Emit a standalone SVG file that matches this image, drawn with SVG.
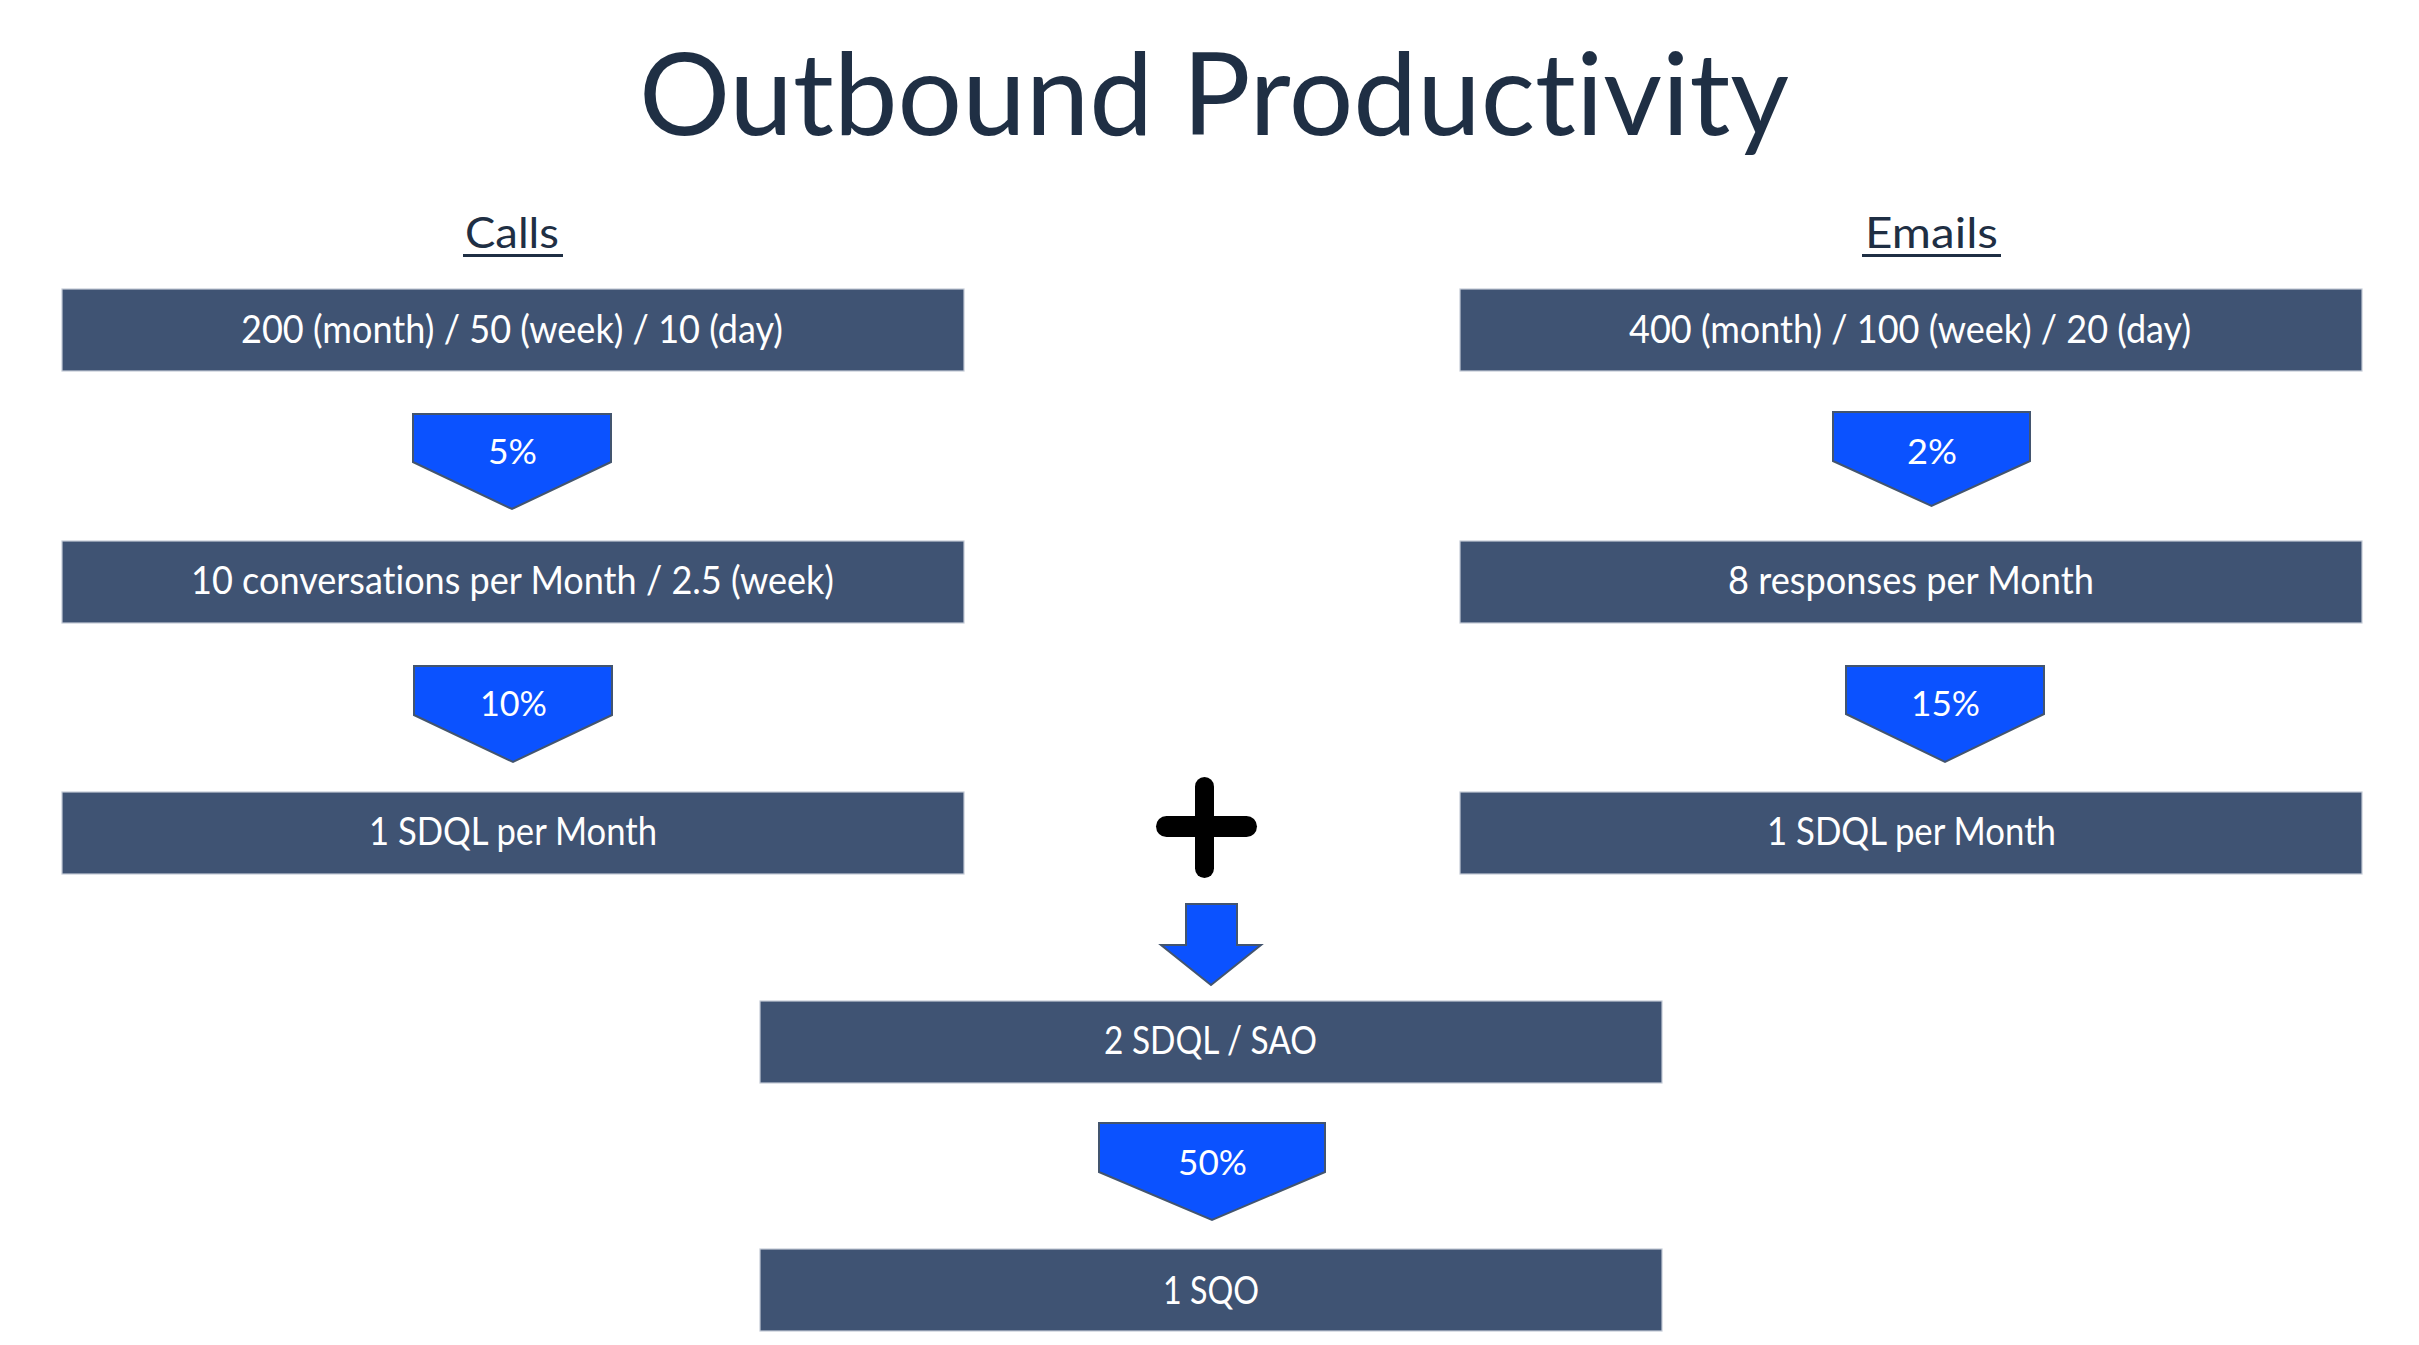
<svg xmlns="http://www.w3.org/2000/svg" width="2419" height="1345" viewBox="0 0 2419 1345">
  <style>
    text { font-variant-ligatures: none; font-feature-settings: "liga" 0, "clig" 0; }
    .box { fill: #3F5373; stroke: #C3CAD6; stroke-width: 1.2; }
    .bt { fill: #FFFFFF; font-family: Lato, "Noto Sans", sans-serif; font-size: 38px; }
    .chev { fill: #0B52FF; stroke: #43556F; stroke-width: 2; stroke-linejoin: miter; }
    .pt { fill: #FFFFFF; font-family: Lato, "Noto Sans", sans-serif; font-size: 34px; }
    .hd { fill: #1F2F44; font-family: Lato, "Noto Sans", sans-serif; }
  </style>
  <rect x="0" y="0" width="2419" height="1345" fill="#FFFFFF"/>

  <g id="title">
    <text class="hd" x="639" y="135" font-size="115" textLength="1150" lengthAdjust="spacingAndGlyphs">Outbound Productivity</text>
  </g>
  <g id="calls-heading">
    <text class="hd" x="465" y="248" font-size="43" textLength="94" lengthAdjust="spacingAndGlyphs">Calls</text>
    <rect x="463" y="254" width="100" height="3" fill="#1F2F44"/>
  </g>
  <g id="emails-heading">
    <text class="hd" x="1865" y="248" font-size="43" textLength="133" lengthAdjust="spacingAndGlyphs">Emails</text>
    <rect x="1862" y="254" width="139" height="3" fill="#1F2F44"/>
  </g>

  <g id="calls-volume">
    <rect class="box" x="62" y="289" width="902" height="82"/>
    <text class="bt" x="241" y="343" textLength="542" lengthAdjust="spacingAndGlyphs">200 (month) / 50 (week) / 10 (day)</text>
  </g>
  <g id="calls-conversations">
    <rect class="box" x="62" y="541" width="902" height="82"/>
    <text class="bt" x="191" y="594" textLength="643" lengthAdjust="spacingAndGlyphs">10 conversations per Month / 2.5 (week)</text>
  </g>
  <g id="calls-sdql">
    <rect class="box" x="62" y="792" width="902" height="82"/>
    <text class="bt" x="369" y="845" textLength="288" lengthAdjust="spacingAndGlyphs">1 SDQL per Month</text>
  </g>

  <g id="emails-volume">
    <rect class="box" x="1460" y="289" width="902" height="82"/>
    <text class="bt" x="1629" y="343" textLength="562" lengthAdjust="spacingAndGlyphs">400 (month) / 100 (week) / 20 (day)</text>
  </g>
  <g id="emails-responses">
    <rect class="box" x="1460" y="541" width="902" height="82"/>
    <text class="bt" x="1728" y="594" textLength="366" lengthAdjust="spacingAndGlyphs">8 responses per Month</text>
  </g>
  <g id="emails-sdql">
    <rect class="box" x="1460" y="792" width="902" height="82"/>
    <text class="bt" x="1767" y="845" textLength="289" lengthAdjust="spacingAndGlyphs">1 SDQL per Month</text>
  </g>

  <g id="plus">
    <rect x="1195" y="777" width="19" height="101" rx="9.5" fill="#000000"/>
    <rect x="1156" y="816" width="101" height="21" rx="10.5" fill="#000000"/>
  </g>

  <g id="sdql-sao">
    <rect class="box" x="760" y="1001" width="902" height="82"/>
    <text class="bt" x="1104" y="1054" textLength="213" lengthAdjust="spacingAndGlyphs">2 SDQL / SAO</text>
  </g>
  <g id="sqo">
    <rect class="box" x="760" y="1249" width="902" height="82"/>
    <text class="bt" x="1163" y="1304" textLength="96" lengthAdjust="spacingAndGlyphs">1 SQO</text>
  </g>

  <g id="connectors">
    <g id="calls-5pct">
      <polygon class="chev" points="413,414 611,414 611,462 512,509 413,462"/>
      <text class="pt" x="488" y="464" textLength="49" lengthAdjust="spacingAndGlyphs">5%</text>
    </g>
    <g id="calls-10pct">
      <polygon class="chev" points="414,666 612,666 612,715 513,762 414,715"/>
      <text class="pt" x="480" y="716" textLength="67" lengthAdjust="spacingAndGlyphs">10%</text>
    </g>
    <g id="emails-2pct">
      <polygon class="chev" points="1833,412 2030,412 2030,461 1931.5,506 1833,461"/>
      <text class="pt" x="1907" y="464" textLength="50" lengthAdjust="spacingAndGlyphs">2%</text>
    </g>
    <g id="emails-15pct">
      <polygon class="chev" points="1846,666 2044,666 2044,714 1945,762 1846,714"/>
      <text class="pt" x="1911" y="716" textLength="69" lengthAdjust="spacingAndGlyphs">15%</text>
    </g>
    <g id="merge-arrow">
      <polygon class="chev" points="1186,904 1237,904 1237,945 1261,945 1211,985 1161,945 1186,945"/>
    </g>
    <g id="sao-50pct">
      <polygon class="chev" points="1099,1123 1325,1123 1325,1172 1212,1220 1099,1172"/>
      <text class="pt" x="1178" y="1175" textLength="69" lengthAdjust="spacingAndGlyphs">50%</text>
    </g>
  </g>
</svg>
